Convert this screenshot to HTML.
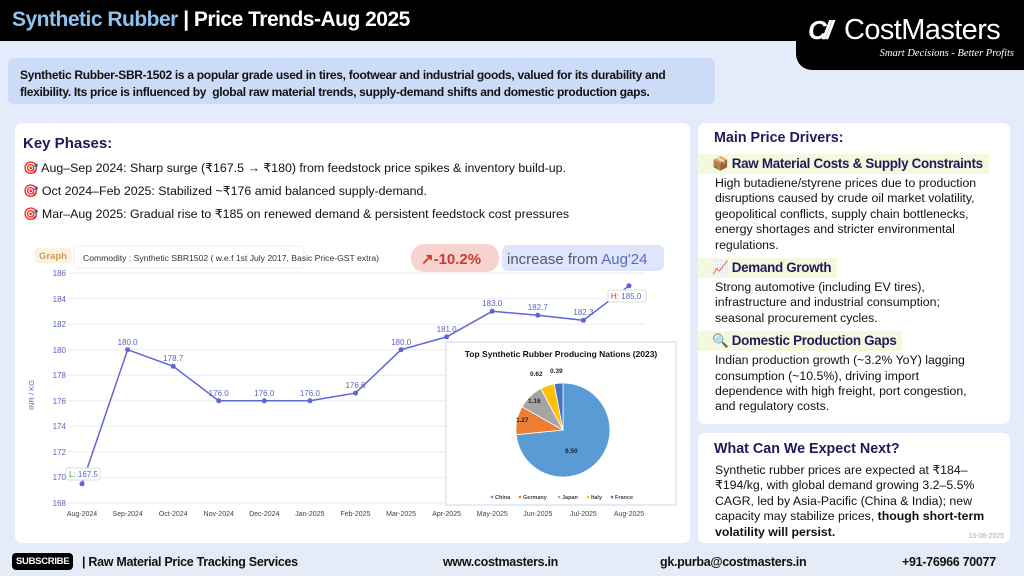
<!DOCTYPE html>
<html><head><meta charset="utf-8"><style>
*{margin:0;padding:0;box-sizing:border-box}
body{width:1024px;height:576px;overflow:hidden;background:#e4ecfb;font-family:"Liberation Sans","DejaVu Sans",sans-serif;position:relative}
.hdr{position:absolute;left:0;top:0;width:1024px;height:41px;background:#000}
.hdr h1{position:absolute;left:12px;top:8px;font-size:21px;font-weight:bold;color:#fff;letter-spacing:-0.5px}
.hdr h1 span{color:#8ec3f0}
.logo{position:absolute;left:796px;top:0;width:228px;height:70px;background:#000;border-bottom-left-radius:16px}
.logo .n{position:absolute;left:48px;top:14px;color:#fff;font-size:29px;letter-spacing:-0.6px}
.logo .m{position:absolute;left:12px;top:15px;color:#fff;font-size:26px;font-weight:bold;font-style:italic;letter-spacing:-4px}
.logo .s{position:absolute;right:10px;top:48px;color:#fff;font-size:10.5px;font-style:italic;font-family:"Liberation Serif",serif}
.desc{position:absolute;left:8px;top:58px;width:707px;height:46px;background:#cbdbf8;border-radius:6px;font-size:12px;font-weight:bold;color:#111;padding:9px 30px 0 12px;line-height:17px;letter-spacing:-0.3px}
.card{position:absolute;background:#fff;border-radius:7px}
.kp{left:15px;top:123px;width:675px;height:420px}
.kp h3{position:absolute;left:8px;top:12px;font-size:15px;color:#1d1a55}
.kp p{position:absolute;left:8px;font-size:12.4px;color:#111}
.rc{overflow:hidden}
.rc p{font-size:12.3px;color:#111;line-height:15.4px;margin-left:17px;margin-right:10px}
.rc h3{font-size:14.3px;color:#201a5a;margin:7px 0 3px 16px}
.rc h4{font-size:13.4px;color:#201a5a;display:inline-block;background:#f4f8de;padding:2px 6px 2px 14px;margin:5px 0 2px 0;letter-spacing:-0.3px;white-space:nowrap}
.ftr{position:absolute;left:0;top:547px;width:1024px;height:29px;background:#e6ecf7;font-size:12.5px;font-weight:bold;color:#111;letter-spacing:-0.3px}
.ftr span{position:absolute;top:8px}
.sub{left:12px;top:6px!important;background:#000;color:#fff;font-size:9.5px;padding:3px 4px;border-radius:4px;letter-spacing:-0.3px}
</style></head><body>
<div class="hdr"><h1><span>Synthetic Rubber</span> | Price Trends-Aug 2025</h1></div>
<div class="logo"><div class="m">C//</div><div class="n">CostMasters</div><div class="s">Smart Decisions - Better Profits</div></div>
<div class="desc">Synthetic Rubber-SBR-1502 is a popular grade used in tires, footwear and industrial goods, valued for its durability and flexibility. Its price is influenced by &nbsp;global raw material trends, supply-demand shifts and domestic production gaps.</div>

<div class="card kp">
<h3>Key Phases:</h3>
<p style="top:37px">🎯 Aug–Sep 2024: Sharp surge (₹167.5 → ₹180) from feedstock price spikes &amp; inventory build-up.</p>
<p style="top:60px">🎯 Oct 2024–Feb 2025: Stabilized ~₹176 amid balanced supply-demand.</p>
<p style="top:83px">🎯 Mar–Aug 2025: Gradual rise to ₹185 on renewed demand &amp; persistent feedstock cost pressures</p>
</div>

<svg style="position:absolute;left:0;top:0" width="1024" height="576" font-family="Liberation Sans, sans-serif">
<rect x="35" y="248" width="36" height="15" rx="3" fill="#fbf3e0"/>
<text x="39" y="259" font-size="9.5" fill="#c8a060" font-weight="bold">Graph</text>
<rect x="74" y="246" width="230" height="22" rx="4" fill="#fff" stroke="#eee"/>
<text x="83" y="261" font-size="8.6" fill="#333">Commodity : Synthetic SBR1502 ( w.e.f 1st July 2017, Basic Price-GST extra)</text>
<rect x="411" y="244" width="88" height="28" rx="13" fill="#f6d3cd"/>
<text x="421" y="264" font-size="15" fill="#d03a2e" font-weight="bold">↗-10.2%</text>
<rect x="502" y="245" width="162" height="26" rx="6" fill="#dfe5fb"/>
<text x="507" y="264" font-size="15" fill="#55577a">increase from <tspan fill="#5a68c8">Aug'24</tspan></text>
<g stroke="#ececf2" stroke-width="1">
<line x1="68" x2="645" y1="273" y2="273"/><line x1="68" x2="645" y1="298.6" y2="298.6"/><line x1="68" x2="645" y1="324.1" y2="324.1"/><line x1="68" x2="645" y1="349.7" y2="349.7"/><line x1="68" x2="645" y1="375.2" y2="375.2"/><line x1="68" x2="645" y1="400.8" y2="400.8"/><line x1="68" x2="645" y1="426.3" y2="426.3"/><line x1="68" x2="645" y1="451.9" y2="451.9"/><line x1="68" x2="645" y1="477.4" y2="477.4"/><line x1="68" x2="645" y1="503" y2="503"/>
</g>
<g font-size="8" fill="#5b63c6" text-anchor="end">
<text x="66" y="276">186</text><text x="66" y="302">184</text><text x="66" y="327">182</text><text x="66" y="353">180</text><text x="66" y="378">178</text><text x="66" y="404">176</text><text x="66" y="429">174</text><text x="66" y="455">172</text><text x="66" y="480">170</text><text x="66" y="506">168</text>
</g>
<text transform="translate(34,395) rotate(-90)" font-size="7.5" fill="#5b63c6" text-anchor="middle">INR / KG</text>
<polyline fill="none" stroke="#5f66d6" stroke-width="1.5" points="82,483.8 127.6,349.7 173.2,366.3 218.7,400.8 264.3,400.8 309.9,400.8 355.5,393.1 401.1,349.7 446.6,336.9 492.2,311.3 537.8,315.2 583.4,320.3 629,285.8"/>
<g fill="#5f66d6"><circle cx="82" cy="483.8" r="2.5"/><circle cx="127.6" cy="349.7" r="2.5"/><circle cx="173.2" cy="366.3" r="2.5"/><circle cx="218.7" cy="400.8" r="2.5"/><circle cx="264.3" cy="400.8" r="2.5"/><circle cx="309.9" cy="400.8" r="2.5"/><circle cx="355.5" cy="393.1" r="2.5"/><circle cx="401.1" cy="349.7" r="2.5"/><circle cx="446.6" cy="336.9" r="2.5"/><circle cx="492.2" cy="311.3" r="2.5"/><circle cx="537.8" cy="315.2" r="2.5"/><circle cx="583.4" cy="320.3" r="2.5"/><circle cx="629" cy="285.8" r="2.5"/></g>
<g font-size="8" fill="#5b63c6" text-anchor="middle">
<text x="127.6" y="345">180.0</text><text x="173.2" y="361">178.7</text><text x="218.7" y="396">176.0</text><text x="264.3" y="396">176.0</text><text x="309.9" y="396">176.0</text><text x="355.5" y="388">176.6</text><text x="401.1" y="345">180.0</text><text x="446.6" y="332">181.0</text><text x="492.2" y="306">183.0</text><text x="537.8" y="310">182.7</text><text x="583.4" y="315">182.3</text>
</g>
<rect x="66" y="468" width="34" height="12" rx="2" fill="#fff" stroke="#ddd"/>
<text x="69" y="477" font-size="8" fill="#5b63c6"><tspan fill="#3a9a3a">L:</tspan> 167.5</text>
<rect x="608" y="290" width="38" height="12" rx="2" fill="#fff" stroke="#ddd"/>
<text x="611" y="299" font-size="8" fill="#5b63c6"><tspan fill="#d03030">H:</tspan> 185.0</text>
<g font-size="7" fill="#444" text-anchor="middle">
<text x="82" y="516">Aug-2024</text><text x="127.6" y="516">Sep-2024</text><text x="173.2" y="516">Oct-2024</text><text x="218.7" y="516">Nov-2024</text><text x="264.3" y="516">Dec-2024</text><text x="309.9" y="516">Jan-2025</text><text x="355.5" y="516">Feb-2025</text><text x="401.1" y="516">Mar-2025</text><text x="446.6" y="516">Apr-2025</text><text x="492.2" y="516">May-2025</text><text x="537.8" y="516">Jun-2025</text><text x="583.4" y="516">Jul-2025</text><text x="629" y="516">Aug-2025</text>
</g>
<rect x="446" y="342" width="230" height="163" fill="#fff" stroke="#c8d4ec"/>
<text x="561" y="357" font-size="8.5" font-weight="bold" fill="#111" text-anchor="middle">Top Synthetic Rubber Producing Nations (2023)</text>
<g stroke="#fff" stroke-width="0.8">
<path d="M563,430 L563,383 A47,47 0 1,1 516.2,434.7 Z" fill="#5b9bd5"/>
<path d="M563,430 L516.2,434.7 A47,47 0 0,1 522.1,406.8 Z" fill="#ed7d31"/>
<path d="M563,430 L522.1,406.8 A47,47 0 0,1 540.9,388.5 Z" fill="#a5a5a5"/>
<path d="M563,430 L540.9,388.5 A47,47 0 0,1 554.2,383.8 Z" fill="#ffc000"/>
<path d="M563,430 L554.2,383.8 A47,47 0 0,1 563,383 Z" fill="#4472c4"/>
</g>
<g font-size="6.5" font-weight="bold" fill="#222">
<text x="565" y="453">9.50</text><text x="516" y="422">1.27</text><text x="528" y="403">1.16</text><text x="530" y="376">0.62</text><text x="550" y="373">0.39</text>
</g>
<g font-size="5.5" font-weight="bold" fill="#444">
<circle cx="492" cy="497" r="1.3" fill="#5b9bd5"/><text x="495" y="499">China</text>
<circle cx="520" cy="497" r="1.3" fill="#ed7d31"/><text x="523" y="499">Germany</text>
<circle cx="559" cy="497" r="1.3" fill="#a5a5a5"/><text x="562" y="499">Japan</text>
<circle cx="588" cy="497" r="1.3" fill="#ffc000"/><text x="591" y="499">Italy</text>
<circle cx="612" cy="497" r="1.3" fill="#4472c4"/><text x="615" y="499">France</text>
</g>
</svg>

<div class="card rc" style="left:698px;top:123px;width:312px;height:301px">
<h3>Main Price Drivers:</h3>
<h4>📦 Raw Material Costs &amp; Supply Constraints</h4>
<p>High butadiene/styrene prices due to production disruptions caused by crude oil market volatility, geopolitical conflicts, supply chain bottlenecks, energy shortages and stricter environmental regulations.</p>
<h4>📈 Demand Growth</h4>
<p style="margin-right:30px">Strong automotive (including EV tires), infrastructure and industrial consumption; seasonal procurement cycles.</p>
<h4>🔍 Domestic Production Gaps</h4>
<p style="margin-right:20px">Indian production growth (~3.2% YoY) lagging consumption (~10.5%), driving import dependence with high freight, port congestion, and regulatory costs.</p>
</div>
<div class="card rc" style="left:698px;top:433px;width:312px;height:110px">
<h3 style="margin-top:8px">What Can We Expect Next?</h3>
<p style="margin-top:6px;margin-right:22px">Synthetic rubber prices are expected at ₹184–₹194/kg, with global demand growing 3.2–5.5% CAGR, led by Asia-Pacific (China &amp; India); new capacity may stabilize prices, <b>though short-term volatility will persist.</b></p>
<span style="position:absolute;right:6px;bottom:3px;font-size:7px;color:#aaa">13-08-2025</span>
</div>

<div class="ftr">
<span class="sub">SUBSCRIBE</span>
<span style="left:82px">| Raw Material Price Tracking Services</span>
<span style="left:443px">www.costmasters.in</span>
<span style="left:660px">gk.purba@costmasters.in</span>
<span style="left:902px">+91-76966 70077</span>
</div>
</body></html>
